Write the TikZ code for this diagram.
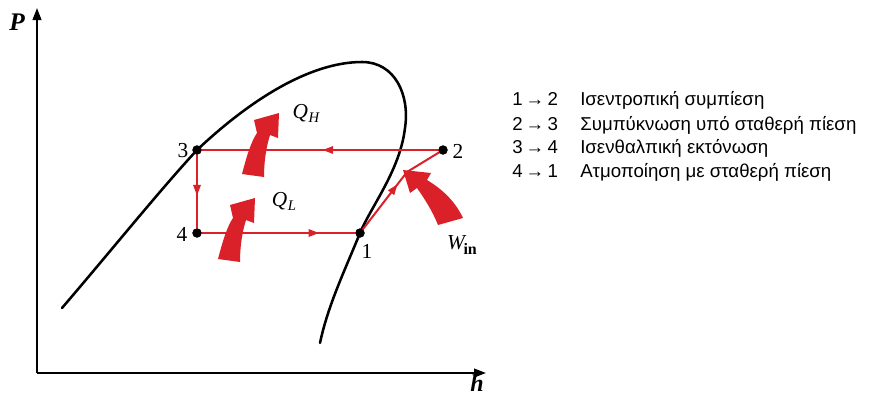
\documentclass[tikz,border=0pt]{standalone}
\usepackage{fontspec}
\setmainfont{Liberation Serif}
\newfontfamily\grk{Liberation Sans}
\usetikzlibrary{arrows.meta,decorations.markings}
\definecolor{cyc}{RGB}{218,32,40}
\begin{document}
\begin{tikzpicture}[x=0.75pt,y=-0.75pt,
  axis/.style={line width=1.5pt, -{Triangle[length=9pt,width=6.5pt]}},
  dome/.style={line width=1.9pt, line cap=round, line join=round},
  cycline/.style={cyc, line width=1.5pt},
  mid/.style={postaction={decorate}, decoration={markings,
      mark=at position #1 with {\arrow{Triangle[length=8pt,width=5.5pt]}}}},
  pnt/.style={circle, fill=black, inner sep=0pt, minimum size=7pt},
  lbl/.style={font=\fontsize{16}{18}\selectfont, inner sep=0pt},
  legnum/.style={anchor=base west, inner sep=0pt, font=\grk\fontsize{14}{16}\selectfont},
  legtxt/.style={anchor=base west, inner sep=0pt, font=\grk\fontsize{14}{16}\selectfont},
  qarrow/.pic={\fill[cyc] (0,0) .. controls (5,-19) and (9,-32) .. (15,-41)
      -- (12,-54) -- (37,-61) -- (36,-36) -- (28,-39)
      .. controls (24,-26) and (22,-12) .. (22,3) -- cycle;}
]
\useasboundingbox (0,0) rectangle (875,396);

% axes
\coordinate (O) at (37,373);
\coordinate (ytip) at (37,8);
\coordinate (xtip) at (486,373);
\draw[axis] (O) -- (ytip);
\draw[axis] (O) -- (xtip);
\node[font=\fontsize{18}{20}\selectfont\bfseries\itshape, inner sep=0pt] (hlab) at (477,383) {h};
\node[font=\fontsize{19}{21}\selectfont\bfseries\itshape, inner sep=0pt] (plab) at (17,22) {P};

% saturation dome
\draw[dome] (62,308) .. controls (110,252) and (160,190) .. (197,150)
  .. controls (250,100) and (310,62) .. (362,62)
  .. controls (395,62) and (410,95) .. (405,128)
  .. controls (400,170) and (372,205) .. (360,233)
  .. controls (345,270) and (328,305) .. (320,343);

% state points
\node[pnt] (p1) at (360,233) {};
\node[pnt] (p2) at (443,150) {};
\node[pnt] (p3) at (197,150) {};
\node[pnt] (p4) at (197,233) {};
\coordinate (bend) at (407,172);

% cycle lines
\draw[cycline, mid=0.49] (p2.center) -- (p3.center);
\draw[cycline, mid=0.55] (p3.center) -- (p4.center);
\draw[cycline, mid=0.75] (p4.center) -- (p1.center);
\draw[cycline, mid=0.8] (p1.center) -- (bend);
\draw[cycline] (bend) -- (p2.center);

% redraw dots on top
\foreach \p in {p1,p2,p3,p4} \fill (\p) circle (4.5);

% heat and work arrows
\pic at (242,174) {qarrow};
\pic at (218,259) {qarrow};
\fill[cyc] (438,225) .. controls (432,210) and (424,198) .. (417,188)
  -- (410,193) -- (403,170) -- (431,173) -- (427,180)
  .. controls (442,189) and (455,201) .. (463,218) -- cycle;

% labels
\node[lbl] (l3) at (183,151) {3};
\node[lbl] (l2) at (458,151) {2};
\node[lbl] (l4) at (182,234) {4};
\node[lbl] (l1) at (367,251) {1};
\node[lbl] (qh) at (306,113) {\itshape Q\kern0.5pt\raisebox{-3pt}{\fontsize{11}{12}\selectfont H}};
\node[lbl] (ql) at (284,201) {\itshape Q\kern0.5pt\raisebox{-3pt}{\fontsize{11}{12}\selectfont L}};
\node[lbl] (win) at (462,245) {\itshape W\kern-1pt\raisebox{-4pt}{\upshape\bfseries\fontsize{12}{13}\selectfont in}};

% legend
\node[legnum] (n1) at (512,105) {1\,→\,2};
\node[legnum] (n2) at (512,130) {2\,→\,3};
\node[legnum] (n3) at (512,153.5) {3\,→\,4};
\node[legnum] (n4) at (512,177) {4\,→\,1};
\node[legtxt] (t1) at (580,105) {Ισεντροπική συμπίεση};
\node[legtxt] (t2) at (580,130) {Συμπύκνωση υπό σταθερή πίεση};
\node[legtxt] (t3) at (580,153.5) {Ισενθαλπική εκτόνωση};
\node[legtxt] (t4) at (580,177) {Ατμοποίηση με σταθερή πίεση};
\end{tikzpicture}
\end{document}
